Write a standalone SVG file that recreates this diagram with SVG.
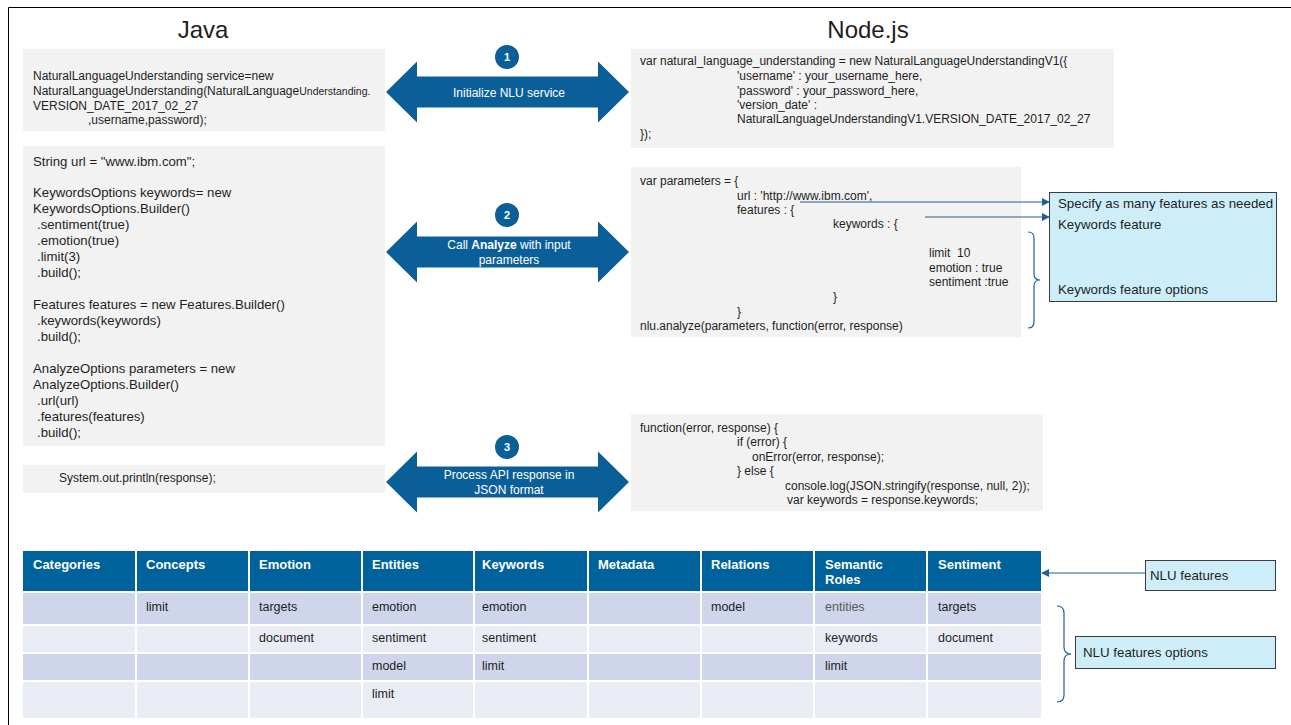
<svg xmlns="http://www.w3.org/2000/svg" width="1291" height="725" viewBox="0 0 1291 725">
  <style>
    text { font-family: "Liberation Sans", Arial, sans-serif; fill: #1e1e1e; }
    .title { font-size: 24px; text-anchor: middle; }
    .code { font-size: 12px; }
    .code-lg { font-size: 13.2px; }
    .codebox { fill: #f2f2f2; }
    .arrowshape { fill: #0b5f99; }
    .step { fill: #0b5f99; }
    .stepnum { font-size: 11px; font-weight: bold; fill: #ffffff; text-anchor: middle; }
    .arrowtxt { font-size: 12px; fill: #ffffff; text-anchor: middle; }
    .note { fill: #cdeef8; stroke: #3c3c3c; stroke-width: 1; }
    .notetxt { font-size: 13.3px; }
    .hdr { fill: #00629b; }
    .hdrtxt { font-size: 13px; font-weight: bold; fill: #ffffff; }
    .rowA { fill: #cfd5ea; }
    .rowB { fill: #e9ebf5; }
    .cell { font-size: 12.5px; }
    .grid { stroke: #ffffff; stroke-width: 2; }
    .link { stroke: #1f5f99; stroke-width: 1.2; fill: none; }
    .brace { stroke: #1f5f99; stroke-width: 1.2; fill: none; }
  </style>
  <defs>
    <!-- double-headed block arrow, centred on y = 0 -->
    <path id="dbl" d="M386,0 L417,-30.5 L417,-15.5 L598,-15.5 L598,-30.5 L629,0 L598,30.5 L598,15.5 L417,15.5 L417,30.5 Z"/>
    <marker id="tip" viewBox="0 0 10 10" refX="9" refY="5" markerWidth="8" markerHeight="8" orient="auto-start-reverse" markerUnits="userSpaceOnUse">
      <path d="M0,0 L10,5 L0,10 Z" fill="#1f5f99"/>
    </marker>
  </defs>

  <rect x="0" y="0" width="1291" height="725" fill="#ffffff"/>
  <!-- outer frame -->
  <path d="M8.5,725 V7.5 H1291" fill="none" stroke="#000000" stroke-width="1"/>

  <text class="title" x="203" y="38">Java</text>
  <text class="title" x="868" y="38">Node.js</text>

  <!-- Java: service creation -->
  <g id="java-init">
    <rect class="codebox" x="23" y="49" width="362" height="82"/>
    <text class="code" x="33" y="80">NaturalLanguageUnderstanding service=new</text>
    <text class="code" x="33" y="95">NaturalLanguageUnderstanding(NaturalLanguage<tspan font-size="10.5">Understanding.</tspan></text>
    <text class="code" x="33" y="110">VERSION_DATE_2017_02_27</text>
    <text class="code" x="88" y="124">,username,password);</text>
  </g>

  <!-- Java: analyze options -->
  <g id="java-analyze">
    <rect class="codebox" x="23" y="146" width="362" height="300"/>
    <text class="code-lg" x="33" y="166">String url = "www.ibm.com";</text>
    <text class="code-lg" x="33" y="197">KeywordsOptions keywords= new</text>
    <text class="code-lg" x="33" y="213">KeywordsOptions.Builder()</text>
    <text class="code-lg" x="37" y="229">.sentiment(true)</text>
    <text class="code-lg" x="37" y="245">.emotion(true)</text>
    <text class="code-lg" x="37" y="261">.limit(3)</text>
    <text class="code-lg" x="37" y="277">.build();</text>
    <text class="code-lg" x="33" y="309">Features features = new Features.Builder()</text>
    <text class="code-lg" x="37" y="325">.keywords(keywords)</text>
    <text class="code-lg" x="37" y="341">.build();</text>
    <text class="code-lg" x="33" y="373">AnalyzeOptions parameters = new</text>
    <text class="code-lg" x="33" y="389">AnalyzeOptions.Builder()</text>
    <text class="code-lg" x="37" y="405">.url(url)</text>
    <text class="code-lg" x="37" y="421">.features(features)</text>
    <text class="code-lg" x="37" y="437">.build();</text>
  </g>

  <!-- Java: response output -->
  <g id="java-response">
    <rect class="codebox" x="23" y="465" width="362" height="28"/>
    <text class="code" x="59" y="482">System.out.println(response);</text>
  </g>

  <!-- Step arrows -->
  <g id="step-1">
    <use href="#dbl" class="arrowshape" y="92"/>
    <circle class="step" cx="507" cy="57" r="12"/>
    <text class="stepnum" x="507" y="61">1</text>
    <text class="arrowtxt" x="509" y="97">Initialize NLU service</text>
  </g>
  <g id="step-2">
    <use href="#dbl" class="arrowshape" y="252"/>
    <circle class="step" cx="507" cy="215" r="12"/>
    <text class="stepnum" x="507" y="219">2</text>
    <text class="arrowtxt" x="509" y="249">Call <tspan font-weight="bold">Analyze</tspan> with input</text>
    <text class="arrowtxt" x="509" y="264">parameters</text>
  </g>
  <g id="step-3">
    <use href="#dbl" class="arrowshape" y="482"/>
    <circle class="step" cx="507" cy="447" r="12"/>
    <text class="stepnum" x="507" y="451">3</text>
    <text class="arrowtxt" x="509" y="479">Process API response in</text>
    <text class="arrowtxt" x="509" y="494">JSON format</text>
  </g>

  <!-- Node.js: service creation -->
  <g id="node-init">
    <rect class="codebox" x="631" y="49" width="483" height="99"/>
    <text class="code" x="640" y="65">var natural_language_understanding = new NaturalLanguageUnderstandingV1({</text>
    <text class="code" x="737" y="80">'username' : your_username_here,</text>
    <text class="code" x="737" y="95">'password' : your_password_here,</text>
    <text class="code" x="737" y="109">'version_date' :</text>
    <text class="code" x="737" y="123">NaturalLanguageUnderstandingV1.VERSION_DATE_2017_02_27</text>
    <text class="code" x="640" y="138">});</text>
  </g>

  <!-- Node.js: analyze parameters -->
  <g id="node-analyze">
    <rect class="codebox" x="631" y="167" width="390" height="170"/>
    <text class="code" x="640" y="185">var parameters = {</text>
    <text class="code" x="737" y="200">url : 'http://www.ibm.com',</text>
    <text class="code" x="737" y="214">features : {</text>
    <text class="code" x="833" y="228">keywords : {</text>
    <text class="code" x="929" y="257">limit&#160; 10</text>
    <text class="code" x="929" y="272">emotion : true</text>
    <text class="code" x="929" y="286">sentiment :true</text>
    <text class="code" x="833" y="301">}</text>
    <text class="code" x="737" y="316">}</text>
    <text class="code" x="640" y="330">nlu.analyze(parameters, function(error, response)</text>
  </g>

  <!-- Node.js: response callback -->
  <g id="node-response">
    <rect class="codebox" x="631" y="414" width="412" height="97"/>
    <text class="code" x="640" y="432">function(error, response) {</text>
    <text class="code" x="737" y="446">if (error) {</text>
    <text class="code" x="752" y="461">onError(error, response);</text>
    <text class="code" x="737" y="475">} else {</text>
    <text class="code" x="785" y="490">console.log(JSON.stringify(response, null, 2));</text>
    <text class="code" x="787" y="504">var keywords = response.keywords;</text>
  </g>

  <!-- Parameter notes -->
  <g id="note-features">
    <rect class="note" x="1049.5" y="192.5" width="227" height="109"/>
    <text class="notetxt" x="1058" y="208">Specify as many features as needed</text>
    <text class="notetxt" x="1058" y="229">Keywords feature</text>
    <text class="notetxt" x="1058" y="294">Keywords feature options</text>
  </g>

  <!-- NLU feature table -->
  <g id="feature-table">
    <rect class="hdr" x="23" y="551" width="1018" height="40"/>
    <rect class="rowA" x="23" y="592" width="1018" height="33"/>
    <rect class="rowB" x="23" y="625" width="1018" height="28"/>
    <rect class="rowA" x="23" y="653" width="1018" height="28"/>
    <rect class="rowB" x="23" y="681" width="1018" height="37"/>
    <g class="grid">
      <line x1="23" y1="592" x2="1041" y2="592"/>
      <line x1="23" y1="625" x2="1041" y2="625"/>
      <line x1="23" y1="653" x2="1041" y2="653"/>
      <line x1="23" y1="681" x2="1041" y2="681"/>
      <line x1="136" y1="551" x2="136" y2="718"/>
      <line x1="249" y1="551" x2="249" y2="718"/>
      <line x1="362" y1="551" x2="362" y2="718"/>
      <line x1="474" y1="551" x2="474" y2="718"/>
      <line x1="588" y1="551" x2="588" y2="718"/>
      <line x1="701" y1="551" x2="701" y2="718"/>
      <line x1="814" y1="551" x2="814" y2="718"/>
      <line x1="927" y1="551" x2="927" y2="718"/>
    </g>
    <text class="hdrtxt" x="33" y="569">Categories</text>
    <text class="hdrtxt" x="146" y="569">Concepts</text>
    <text class="hdrtxt" x="259" y="569">Emotion</text>
    <text class="hdrtxt" x="372" y="569">Entities</text>
    <text class="hdrtxt" x="482" y="569">Keywords</text>
    <text class="hdrtxt" x="598" y="569">Metadata</text>
    <text class="hdrtxt" x="711" y="569">Relations</text>
    <text class="hdrtxt" x="825" y="569">Semantic</text>
    <text class="hdrtxt" x="825" y="584">Roles</text>
    <text class="hdrtxt" x="938" y="569">Sentiment</text>

    <text class="cell" x="146" y="611">limit</text>
    <text class="cell" x="259" y="611">targets</text>
    <text class="cell" x="372" y="611">emotion</text>
    <text class="cell" x="482" y="611">emotion</text>
    <text class="cell" x="711" y="611">model</text>
    <text class="cell" x="825" y="611" style="fill:#5a5a5a">entities</text>
    <text class="cell" x="938" y="611">targets</text>

    <text class="cell" x="259" y="642">document</text>
    <text class="cell" x="372" y="642">sentiment</text>
    <text class="cell" x="482" y="642">sentiment</text>
    <text class="cell" x="825" y="642">keywords</text>
    <text class="cell" x="938" y="642">document</text>

    <text class="cell" x="372" y="670">model</text>
    <text class="cell" x="482" y="670">limit</text>
    <text class="cell" x="825" y="670">limit</text>

    <text class="cell" x="372" y="698">limit</text>
  </g>

  <!-- Table notes -->
  <g id="note-nlu-features">
    <rect class="note" x="1145.5" y="560.5" width="130" height="30"/>
    <text class="notetxt" x="1150" y="580">NLU features</text>
  </g>
  <g id="note-nlu-options">
    <rect class="note" x="1075.5" y="636.5" width="200" height="32"/>
    <text class="notetxt" x="1083" y="657">NLU features options</text>
  </g>

  <!-- Connectors -->
  <g id="connectors">
    <line class="link" x1="800" y1="202" x2="1049" y2="202" marker-end="url(#tip)"/>
    <line class="link" x1="925" y1="217" x2="1049" y2="217" marker-end="url(#tip)"/>
    <line class="link" x1="1145" y1="573" x2="1042" y2="573" marker-end="url(#tip)"/>
    <path class="brace" d="M1028,232 q6,0 6,6 v36 q0,6 6,6 q-6,0 -6,6 v36 q0,6 -6,6"/>
    <path class="brace" d="M1057,606 q7,0 7,7 v34 q0,7 7,7 q-7,0 -7,7 v34 q0,7 -7,7"/>
  </g>
</svg>
